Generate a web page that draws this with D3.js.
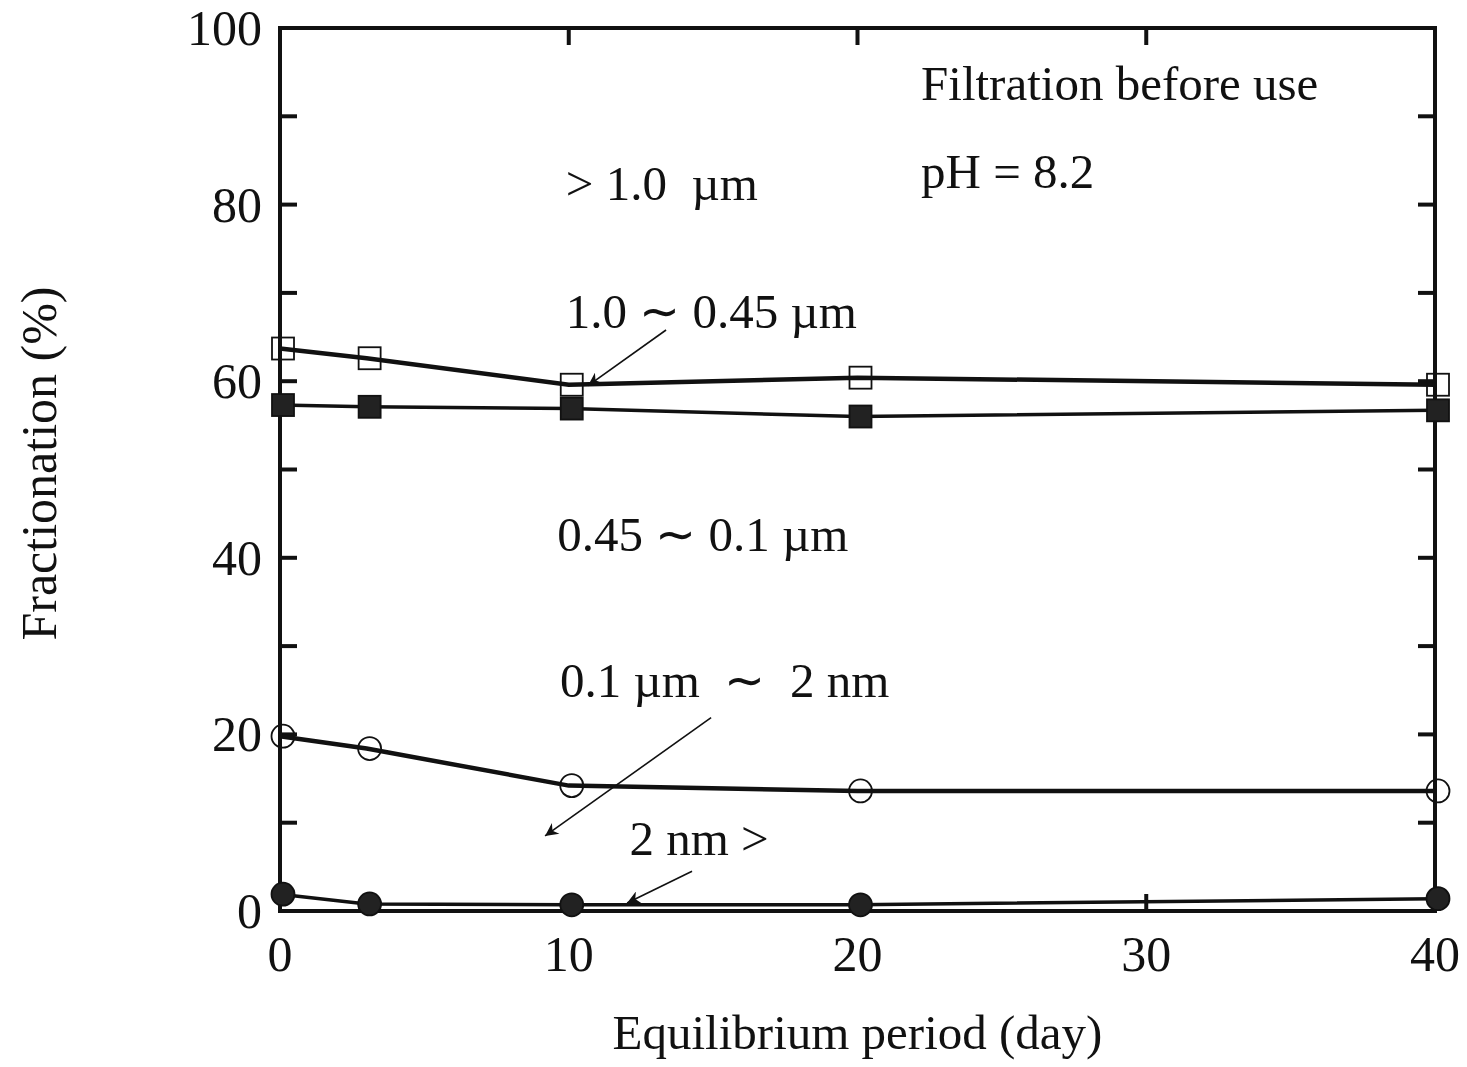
<!DOCTYPE html>
<html>
<head>
<meta charset="utf-8">
<script src="https://cdn.jsdelivr.net/npm/d3@7"></script>
<style>
  body { margin: 0; background: #fff; }
  text { font-family: "Liberation Serif", "Times New Roman", serif; fill: #111; }
</style>
</head>
<body>
<div id="chart"></div>
<script>
// Data
const days = [0, 3, 10, 20, 40];
const openSquares   = [63.7, 62.6, 59.6, 60.4, 59.6];  // 1.0 ~ 0.45 um boundary
const filledSquares = [57.3, 57.1, 56.9, 56.0, 56.7];  // 0.45 ~ 0.1 um boundary
const openCircles   = [19.8, 18.4, 14.2, 13.6, 13.6];  // 0.1 um ~ 2 nm boundary
const filledCircles = [1.9, 0.8, 0.7, 0.7, 1.4];       // 2 nm > boundary

const xTicks = [0, 10, 20, 30, 40];
const yTicks = [0, 20, 40, 60, 80, 100];
const yMinorTicks = [10, 30, 50, 70, 90];

// Region labels [text, day, value] and arrows [fromDay, fromVal, toDay, toVal]
const labels = [
  ["Filtration before use", 22.2, 91.8],
  ["pH = 8.2", 22.2, 81.9],
  ["> 1.0  \u00b5m", 9.9, 80.5],
  ["1.0 \u223c 0.45 \u00b5m", 9.9, 66.0],
  ["0.45 \u223c 0.1 \u00b5m", 9.6, 40.8],
  ["0.1 \u00b5m  \u223c  2 nm", 9.7, 24.2],
  ["2 nm >", 12.1, 6.3]
];
const arrows = [
  [13.37, 65.8, 10.67, 59.5],
  [14.93, 21.9, 9.18, 8.5],
  [14.27, 4.5, 12.02, 0.9]
];

//----------------------------------
// SVG setup
//----------------------------------
const W = 1467, H = 1067;
const margin = {top: 28, right: 32, bottom: 156, left: 280};
const width = W - margin.left - margin.right,
      height = H - margin.top - margin.bottom;

const root = d3.select("#chart").append("svg")
    .attr("width", W)
    .attr("height", H);

const svg = root.append("g")
    .attr("transform", `translate(${margin.left}, ${margin.top})`);

const xScale = d3.scaleLinear().domain([0, 40]).range([0, width]);
const yScale = d3.scaleLinear().domain([0, 100]).range([height, 0]);

// Frame
svg.append("rect")
    .attr("x", 0).attr("y", 0)
    .attr("width", width).attr("height", height)
    .attr("fill", "none")
    .attr("stroke", "#111")
    .attr("stroke-width", 4);

// Inward ticks on all four sides
const tickLen = 17;
const ticksG = svg.append("g").attr("stroke", "#111").attr("stroke-width", 4);
yTicks.concat(yMinorTicks).filter(v => v > 0 && v < 100).forEach(v => {
  ticksG.append("line").attr("x1", 0).attr("x2", tickLen).attr("y1", yScale(v)).attr("y2", yScale(v));
  ticksG.append("line").attr("x1", width - tickLen).attr("x2", width).attr("y1", yScale(v)).attr("y2", yScale(v));
});
xTicks.filter(v => v > 0 && v < 40).forEach(v => {
  ticksG.append("line").attr("x1", xScale(v)).attr("x2", xScale(v)).attr("y1", 0).attr("y2", tickLen);
  ticksG.append("line").attr("x1", xScale(v)).attr("x2", xScale(v)).attr("y1", height - tickLen).attr("y2", height);
});

// Tick labels
svg.append("g").selectAll("text").data(xTicks).join("text")
    .attr("x", d => xScale(d))
    .attr("y", height + 60)
    .attr("text-anchor", "middle")
    .style("font-size", "50px")
    .text(d => d);

svg.append("g").selectAll("text").data(yTicks).join("text")
    .attr("x", -18)
    .attr("y", d => yScale(d) + 17)
    .attr("text-anchor", "end")
    .style("font-size", "50px")
    .text(d => d);

// Axis titles
svg.append("text")
    .attr("x", width / 2)
    .attr("y", height + 138)
    .attr("text-anchor", "middle")
    .style("font-size", "49px")
    .text("Equilibrium period (day)");

svg.append("text")
    .attr("transform", "rotate(-90)")
    .attr("x", -yScale(50) + 6)
    .attr("y", -224)
    .attr("text-anchor", "middle")
    .style("font-size", "50px")
    .text("Fractionation (%)");

//----------------------------------
// Series
//----------------------------------
function series(values, shape, filled, lineWidth) {
  const pts = days.map((d, i) => ({x: d, y: values[i]}));
  svg.append("path")
      .datum(pts)
      .attr("fill", "none")
      .attr("stroke", "#111")
      .attr("stroke-width", lineWidth)
      .attr("d", d3.line().x(d => xScale(d.x)).y(d => yScale(d.y)));

  const g = svg.append("g");
  const size = 22;
  if (shape === "square") {
    g.selectAll("rect").data(pts).join("rect")
        .attr("x", d => xScale(d.x) + 3 - size / 2)
        .attr("y", d => yScale(d.y) - size / 2)
        .attr("width", size).attr("height", size)
        .attr("fill", filled ? "#222" : "none")
        .attr("stroke", "#111")
        .attr("stroke-width", 1.8);
  } else {
    g.selectAll("circle").data(pts).join("circle")
        .attr("cx", d => xScale(d.x) + 3)
        .attr("cy", d => yScale(d.y))
        .attr("r", 11.5)
        .attr("fill", filled ? "#222" : "none")
        .attr("stroke", "#111")
        .attr("stroke-width", 1.8);
  }
}

series(openSquares, "square", false, 4.5);
series(filledSquares, "square", true, 3.5);
series(openCircles, "circle", false, 4.5);
series(filledCircles, "circle", true, 3.5);

//----------------------------------
// Annotations
//----------------------------------
svg.append("g").selectAll("text").data(labels).join("text")
    .attr("x", d => xScale(d[1]))
    .attr("y", d => yScale(d[2]))
    .style("font-size", "49px")
    .style("white-space", "pre")
    .text(d => d[0]);

root.append("defs").append("marker")
    .attr("id", "arrowhead")
    .attr("viewBox", "0 0 10 10")
    .attr("refX", 10).attr("refY", 5)
    .attr("markerWidth", 16).attr("markerHeight", 13)
    .attr("markerUnits", "userSpaceOnUse")
    .attr("orient", "auto")
  .append("path")
    .attr("d", "M0,0 L10,5 L0,10 L3,5 Z")
    .attr("fill", "#111");

svg.append("g").selectAll("line").data(arrows).join("line")
    .attr("x1", d => xScale(d[0]))
    .attr("y1", d => yScale(d[1]))
    .attr("x2", d => xScale(d[2]))
    .attr("y2", d => yScale(d[3]))
    .attr("stroke", "#111")
    .attr("stroke-width", 1.6)
    .attr("marker-end", "url(#arrowhead)");
</script>
</body>
</html>
